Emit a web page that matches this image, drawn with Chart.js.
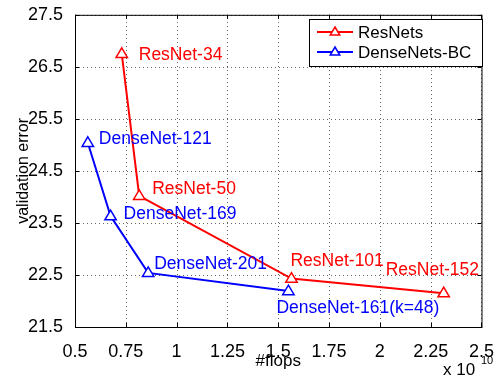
<!DOCTYPE html>
<html>
<head>
<meta charset="utf-8">
<script src="https://cdn.jsdelivr.net/npm/chart.js@4.4.1/dist/chart.umd.min.js"></script>
<style>
  html, body { margin: 0; padding: 0; background: #fff; }
</style>
</head>
<body>
<canvas id="chart" width="500" height="376"></canvas>
<script>
// data (x in units of 10^10 flops)
const resFlops = [0.73, 0.816, 1.565, 2.314];
const resErr = [26.75, 24.02, 22.43, 22.15];
const resNames = ["ResNet-34", "ResNet-50", "ResNet-101", "ResNet-152"];

const denseFlops = [0.563, 0.675, 0.86, 1.55];
const denseErr = [25.04, 23.63, 22.54, 22.19];
const denseNames = ["DenseNet-121", "DenseNet-169", "DenseNet-201", "DenseNet-161(k=48)"];

const xTicks = [0.5, 0.75, 1, 1.25, 1.5, 1.75, 2, 2.25, 2.5];
const yTicks = [21.5, 22.5, 23.5, 24.5, 25.5, 26.5, 27.5];

// label offsets in pixels from each marker
const resOffsets = [[17, 1], [13, -7], [-1, -17], [-58, -23]];
const denseOffsets = [[11, -4], [13, -2], [6, -9], [-12, 17]];

const FONT = "'Liberation Sans', Arial, Helvetica, sans-serif";
const RED = "#ff0000";
const BLUE = "#0000ff";

function pts(xs, ys) {
  return xs.map((x, i) => ({ x: x, y: ys[i] }));
}

function triangle(ctx, x, y, r, color) {
  ctx.save();
  ctx.beginPath();
  ctx.moveTo(x, y - r);
  ctx.lineTo(x + r * 0.95, y + r * 0.6);
  ctx.lineTo(x - r * 0.95, y + r * 0.6);
  ctx.closePath();
  ctx.fillStyle = "#fff";
  ctx.fill();
  ctx.strokeStyle = color;
  ctx.lineWidth = 1.5;
  ctx.stroke();
  ctx.restore();
}

const extras = {
  id: "extras",
  beforeDatasetsDraw(chart) {
    // dotted grid, matlab style
    const ctx = chart.ctx;
    const a = chart.chartArea;
    const xs = chart.scales.x, ys = chart.scales.y;
    ctx.save();
    ctx.strokeStyle = "#666";
    ctx.lineWidth = 1;
    ctx.setLineDash([1, 3]);
    ctx.beginPath();
    xTicks.forEach(t => {
      const px = Math.round(xs.getPixelForValue(t)) + 0.5;
      ctx.moveTo(px, a.bottom); ctx.lineTo(px, a.top);
    });
    yTicks.forEach(t => {
      const py = Math.round(ys.getPixelForValue(t)) + 0.5;
      ctx.moveTo(a.left, py); ctx.lineTo(a.right, py);
    });
    ctx.stroke();
    ctx.restore();
  },
  afterDatasetsDraw(chart) {
    const ctx = chart.ctx;
    const a = chart.chartArea;
    const xs = chart.scales.x, ys = chart.scales.y;

    // markers + point labels
    ctx.save();
    ctx.font = "17.5px " + FONT;
    ctx.textBaseline = "middle";
    ctx.textAlign = "left";
    [[resFlops, resErr, resNames, resOffsets, RED], [denseFlops, denseErr, denseNames, denseOffsets, BLUE]].forEach(s => {
      s[0].forEach((v, i) => {
        const px = xs.getPixelForValue(v);
        const py = ys.getPixelForValue(s[1][i]);
        triangle(ctx, px, py, 6, s[4]);
        ctx.fillStyle = s[4];
        ctx.fillText(s[2][i], px + s[3][i][0], py + s[3][i][1]);
      });
    });
    ctx.restore();

    // axes box and inward ticks
    ctx.save();
    ctx.strokeStyle = "#000";
    ctx.lineWidth = 1;
    ctx.strokeRect(a.left + 0.5, a.top + 0.5, a.right - a.left, a.bottom - a.top);
    ctx.beginPath();
    xTicks.forEach(t => {
      const px = Math.round(xs.getPixelForValue(t)) + 0.5;
      ctx.moveTo(px, a.bottom); ctx.lineTo(px, a.bottom - 4);
      ctx.moveTo(px, a.top); ctx.lineTo(px, a.top + 4);
    });
    yTicks.forEach(t => {
      const py = Math.round(ys.getPixelForValue(t)) + 0.5;
      ctx.moveTo(a.left, py); ctx.lineTo(a.left + 4, py);
      ctx.moveTo(a.right, py); ctx.lineTo(a.right - 4, py);
    });
    ctx.stroke();

    // legend
    const lx = 309, ly = 19, lw = 173, lh = 47;
    ctx.fillStyle = "#fff";
    ctx.fillRect(lx, ly, lw, lh);
    ctx.strokeRect(lx + 0.5, ly + 0.5, lw, lh);
    ctx.font = "17px " + FONT;
    ctx.textBaseline = "middle";
    chart.data.datasets.forEach((d, i) => {
      const yy = ly + 13 + i * 20;
      ctx.strokeStyle = d.borderColor;
      ctx.lineWidth = 2;
      ctx.beginPath();
      ctx.moveTo(lx + 8, yy); ctx.lineTo(lx + 44, yy);
      ctx.stroke();
      triangle(ctx, lx + 26, yy, 5, d.borderColor);
      ctx.fillStyle = "#000";
      ctx.fillText(d.label, lx + 49, yy + 1);
    });

    // exponent
    ctx.fillStyle = "#000";
    ctx.textBaseline = "alphabetic";
    ctx.font = "17px " + FONT;
    ctx.fillText("x 10", 443, 375);
    ctx.font = "11px " + FONT;
    ctx.fillText("10", 481, 364);
    ctx.restore();
  }
};

new Chart(document.getElementById("chart"), {
  type: "line",
  data: {
    datasets: [
      {
        label: "ResNets",
        data: pts(resFlops, resErr),
        borderColor: RED,
        backgroundColor: RED,
        borderWidth: 2,
        pointRadius: 0,
        tension: 0
      },
      {
        label: "DenseNets-BC",
        data: pts(denseFlops, denseErr),
        borderColor: BLUE,
        backgroundColor: BLUE,
        borderWidth: 2,
        pointRadius: 0,
        tension: 0
      }
    ]
  },
  options: {
    responsive: false,
    animation: false,
    layout: { padding: { top: 14, right: 12, left: 0, bottom: 0 } },
    plugins: { legend: { display: false }, tooltip: { enabled: false } },
    scales: {
      x: {
        type: "linear",
        min: 0.5,
        max: 2.5,
        afterBuildTicks: s => { s.ticks = xTicks.map(v => ({ value: v })); },
        afterFit: s => { s.height = 49; },
        grid: { display: false },
        border: { display: false },
        ticks: { color: "#000", padding: 6, font: { size: 18, family: FONT }, maxRotation: 0, callback: v => String(v) },
        title: { display: true, text: "#flops", color: "#000", font: { size: 17, family: FONT }, padding: { top: 0, bottom: 4 } }
      },
      y: {
        type: "linear",
        min: 21.5,
        max: 27.5,
        afterBuildTicks: s => { s.ticks = yTicks.map(v => ({ value: v })); },
        afterFit: s => { s.width = 75; },
        grid: { display: false },
        border: { display: false },
        ticks: { color: "#000", padding: 4, font: { size: 18, family: FONT }, callback: v => String(v) },
        title: { display: true, text: "validation error", color: "#000", font: { size: 16, family: FONT }, padding: { top: 14, bottom: 0 } }
      }
    }
  },
  plugins: [extras]
});
</script>
</body>
</html>
